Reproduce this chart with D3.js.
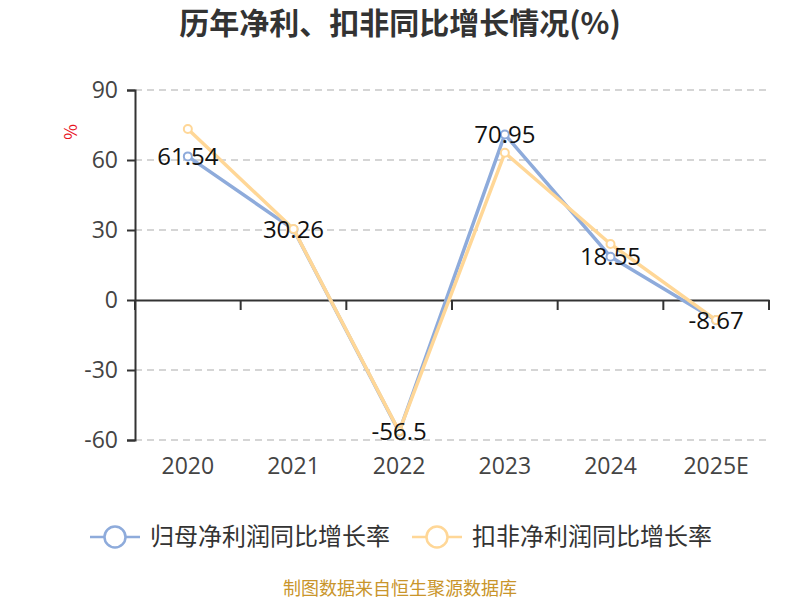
<!DOCTYPE html>
<html>
<head>
<meta charset="utf-8">
<script src="https://cdn.jsdelivr.net/npm/d3@7"></script>
<style>
  body { margin: 0; background: #fff; }
  svg { display: block; font-family: "Noto Sans CJK SC", "Open Sans", sans-serif; }
</style>
</head>
<body>
<div id="chart"></div>
<script>
const years = ["2020", "2021", "2022", "2023", "2024", "2025E"];
const netGrowth = [61.54, 30.26, -56.5, 70.95, 18.55, -8.67];
const deductedGrowth = [73.3, 30.4, -56.3, 63.1, 24.0, -8.6];
const yTicks = [-60, -30, 0, 30, 60, 90];
const seriesNames = ["归母净利润同比增长率", "扣非净利润同比增长率"];

const width = 800, height = 600;
const colors = ["#8eabdb", "#ffd797"];

const svg = d3.select("#chart").append("svg")
  .attr("width", width)
  .attr("height", height);

const x = d3.scaleBand().domain(years).range([135, 769]);
const y = d3.scaleLinear().domain([-60, 90]).range([440, 90]);

// title
svg.append("text")
  .attr("x", 400).attr("y", 34)
  .attr("text-anchor", "middle")
  .style("font-size", "30px").style("font-weight", "bold")
  .style("fill", "#333")
  .text("历年净利、扣非同比增长情况(%)");

// grid lines
svg.append("g")
  .selectAll("line")
  .data(yTicks.filter(d => d !== 0))
  .join("line")
  .attr("x1", 135).attr("x2", 769)
  .attr("y1", d => y(d)).attr("y2", d => y(d))
  .attr("stroke", "#c8c8c8").attr("stroke-width", 1.5)
  .attr("stroke-dasharray", "7,5");

// y axis
const yAxis = svg.append("g")
  .attr("transform", "translate(135,0)")
  .call(d3.axisLeft(y).tickValues(yTicks).tickSize(8).tickPadding(9).tickFormat(d => String(d)));
yAxis.select(".domain").attr("stroke", "#333").attr("stroke-width", 2);
yAxis.selectAll(".tick line").attr("stroke", "#333").attr("stroke-width", 2);
yAxis.selectAll("text")
  .style("font-size", "23px").style("fill", "#444")
  .style("font-family", "'Open Sans', sans-serif");

// y axis unit
svg.append("text")
  .attr("transform", "translate(72,132) rotate(-90)")
  .attr("text-anchor", "middle")
  .attr("dominant-baseline", "middle")
  .style("font-size", "17px").style("fill", "#e8141e")
  .text("%");

// x axis at zero
const xAxis = svg.append("g")
  .attr("transform", `translate(0,${y(0)})`)
  .call(d3.axisBottom(x).tickSize(0).tickFormat(""));
xAxis.select(".domain").attr("stroke", "#333").attr("stroke-width", 2);
xAxis.selectAll(".tick").remove();

svg.append("g")
  .selectAll("line")
  .data(years.map(d => x(d)).concat([x.range()[1]]))
  .join("line")
  .attr("x1", d => d).attr("x2", d => d)
  .attr("y1", y(0)).attr("y2", y(0) + 10)
  .attr("stroke", "#333").attr("stroke-width", 2);

// x labels at bottom
svg.append("g")
  .selectAll("text")
  .data(years)
  .join("text")
  .attr("x", d => x(d) + x.bandwidth() / 2)
  .attr("y", 474)
  .attr("text-anchor", "middle")
  .style("font-size", "23px").style("fill", "#444")
  .style("font-family", "'Open Sans', sans-serif")
  .text(d => d);

const line = d3.line()
  .x((d, i) => x(years[i]) + x.bandwidth() / 2)
  .y(d => y(d));

[netGrowth, deductedGrowth].forEach((values, k) => {
  const g = svg.append("g");
  g.append("path")
    .datum(values)
    .attr("d", line)
    .attr("fill", "none")
    .attr("stroke", colors[k])
    .attr("stroke-width", 3.5)
    .attr("stroke-linejoin", "round");
  g.selectAll("circle")
    .data(values)
    .join("circle")
    .attr("cx", (d, i) => x(years[i]) + x.bandwidth() / 2)
    .attr("cy", d => y(d))
    .attr("r", 4)
    .attr("fill", "#fff")
    .attr("stroke", colors[k])
    .attr("stroke-width", 2);
});

// data labels
svg.append("g")
  .selectAll("text")
  .data(netGrowth)
  .join("text")
  .attr("x", (d, i) => x(years[i]) + x.bandwidth() / 2)
  .attr("y", d => y(d))
  .attr("dy", "0.35em")
  .attr("text-anchor", "middle")
  .style("font-size", "24px").style("fill", "#111")
  .style("font-family", "'Open Sans', sans-serif")
  .text(d => d);

// legend
const legendX = [90, 412];
const legend = svg.append("g")
  .selectAll("g")
  .data(seriesNames)
  .join("g")
  .attr("transform", (d, i) => `translate(${legendX[i]},537)`);
legend.append("line")
  .attr("x1", 0).attr("x2", 50)
  .attr("stroke", (d, i) => colors[i]).attr("stroke-width", 2.5);
legend.append("circle")
  .attr("cx", 25).attr("r", 10.5)
  .attr("fill", "#fff")
  .attr("stroke", (d, i) => colors[i]).attr("stroke-width", 2.5);
legend.append("text")
  .attr("x", 60).attr("dy", "0.35em")
  .style("font-size", "24px").style("fill", "#333")
  .text(d => d);

// source
svg.append("text")
  .attr("x", 400).attr("y", 595)
  .attr("text-anchor", "middle")
  .style("font-size", "18px").style("fill", "#c9952b")
  .text("制图数据来自恒生聚源数据库");
</script>
</body>
</html>
